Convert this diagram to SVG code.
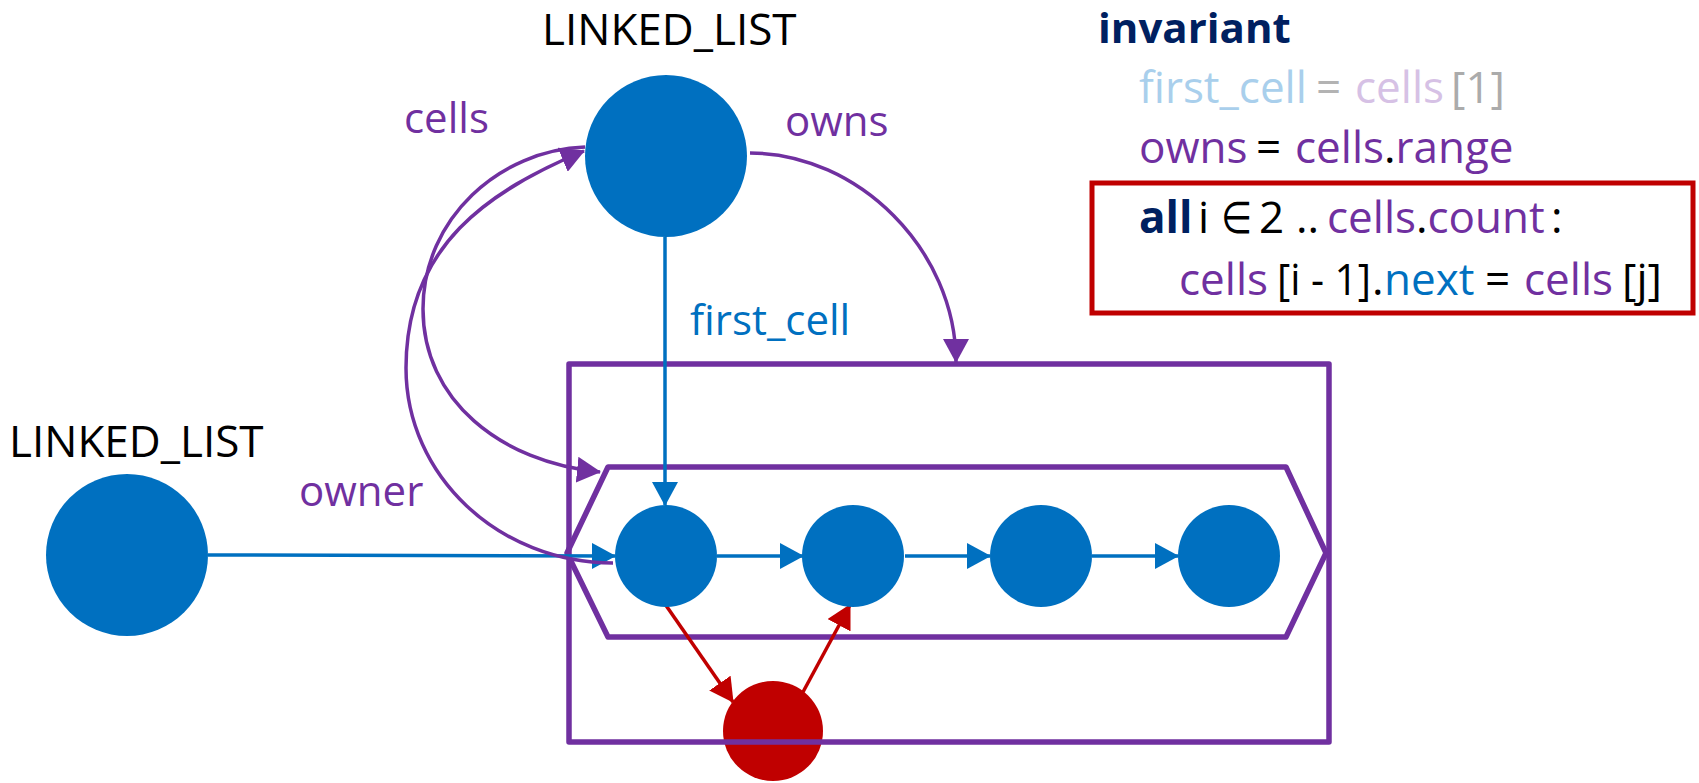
<svg xmlns="http://www.w3.org/2000/svg" width="1699" height="783" viewBox="0 0 1699 783">
<style>
text { font-family: "Open Sans", "Noto Sans", "DejaVu Sans", sans-serif; }
.lbl { font-size: 42px; }
.name { font-size: 44px; fill: #000; }
.inv { font-size: 44px; fill: #000; }
.pu { fill: #7030A0; }
.bl { fill: #0070C0; }
.nv { fill: #002060; font-weight: bold; }
.node { fill: #0070C0; }
.cb { fill: none; stroke: #0070C0; stroke-width: 3.5; }
.cp { fill: none; stroke: #7030A0; stroke-width: 3.5; }
.cr { fill: none; stroke: #C00000; stroke-width: 3.5; }
.box { fill: none; stroke: #7030A0; stroke-width: 5.5; stroke-linejoin: round; }
</style>
<defs>
<marker id="ab" viewBox="0 0 24 26" refX="23" refY="13" markerWidth="24" markerHeight="26" markerUnits="userSpaceOnUse" orient="auto"><path d="M0,0 L24,13 L0,26 z" fill="#0070C0"/></marker>
<marker id="ap" viewBox="0 0 24 26" refX="23" refY="13" markerWidth="24" markerHeight="26" markerUnits="userSpaceOnUse" orient="auto"><path d="M0,0 L24,13 L0,26 z" fill="#7030A0"/></marker>
<marker id="ar" viewBox="0 0 24 26" refX="23" refY="13" markerWidth="24" markerHeight="26" markerUnits="userSpaceOnUse" orient="auto"><path d="M0,0 L24,13 L0,26 z" fill="#C00000"/></marker>
</defs>

<g id="cell-new"><circle cx="773" cy="731" r="50" fill="#C00000"/></g>

<g id="set-owns"><rect class="box" x="569" y="364" width="760" height="378"/></g>

<g id="array-cells"><polygon class="box" points="608,467 1286,467 1326,553 1286,637 608,637 567,553"/></g>

<g id="connectors">
  <path class="cb" d="M208,555 L615,556" marker-end="url(#ab)"/>
  <path class="cb" d="M665,237 L665,505" marker-end="url(#ab)"/>
  <path class="cb" d="M717,556 L803,556" marker-end="url(#ab)"/>
  <path class="cb" d="M905,556 L990,556" marker-end="url(#ab)"/>
  <path class="cb" d="M1092,556 L1178,556" marker-end="url(#ab)"/>
  <path class="cp" d="M585,147 C500,150 423,218 423,309 C423,400 500,462 600,472" marker-end="url(#ap)"/>
  <path class="cp" d="M613,563 C499,563 406,476 406,368 C406,245 490,190 584,151" marker-end="url(#ap)"/>
  <path class="cp" d="M750,153 C858,153 956,250 956,362" marker-end="url(#ap)"/>
  <path class="cr" d="M665,604 L733,702" marker-end="url(#ar)"/>
  <path class="cr" d="M803,692 L850,605" marker-end="url(#ar)"/>
</g>

<g id="ll-top">
  <circle class="node" cx="666" cy="156" r="81"/>
  <text class="name" x="542" y="45">LINKED_LIST</text>
</g>
<g id="ll-left">
  <circle class="node" cx="127" cy="555" r="81"/>
  <text class="name" x="9" y="457">LINKED_LIST</text>
</g>
<g id="cell-1"><circle class="node" cx="666" cy="556" r="51"/></g>
<g id="cell-2"><circle class="node" cx="853" cy="556" r="51"/></g>
<g id="cell-3"><circle class="node" cx="1041" cy="556" r="51"/></g>
<g id="cell-4"><circle class="node" cx="1229" cy="556" r="51"/></g>

<g id="labels">
  <text class="lbl pu" x="404" y="133">cells</text>
  <text class="lbl pu" x="785" y="136">owns</text>
  <text class="lbl bl" x="690" y="335">first_cell</text>
  <text class="lbl pu" x="299" y="506">owner</text>
</g>

<g id="invariant">
  <text class="nv" x="1098" y="43" style="font-size:42px">invariant</text>
  <text class="inv" y="103"><tspan x="1139" fill="#A9CFEC">first_cell</tspan><tspan x="1316" fill="#B3B3B3">=</tspan><tspan x="1355" fill="#D6C1E5">cells</tspan><tspan x="1451" fill="#ABABAB">[1]</tspan></text>
  <text class="inv" y="163"><tspan x="1139" class="pu">owns</tspan><tspan x="1256">=</tspan><tspan x="1295" class="pu">cells</tspan><tspan>.</tspan><tspan class="pu">range</tspan></text>
  <rect x="1092" y="183" width="601" height="130" fill="none" stroke="#C00000" stroke-width="5"/>
  <text class="inv" y="233"><tspan x="1139" class="nv">all</tspan><tspan x="1198">i</tspan></text>
  <text class="inv" x="1221" y="233" textLength="31" lengthAdjust="spacingAndGlyphs">∈</text>
  <text class="inv" y="233"><tspan x="1259">2</tspan><tspan x="1296">..</tspan><tspan x="1327" class="pu">cells</tspan><tspan>.</tspan><tspan class="pu">count</tspan><tspan x="1551">:</tspan></text>
  <text class="inv pu" x="1179" y="295">cells</text>
  <text class="inv" x="1277" y="295" textLength="94" lengthAdjust="spacingAndGlyphs">[i - 1]</text>
  <text class="inv" y="295"><tspan x="1372">.</tspan><tspan x="1384" class="bl">next</tspan><tspan x="1485">=</tspan><tspan x="1524" class="pu">cells</tspan><tspan x="1622">[j]</tspan></text>
</g>
</svg>
